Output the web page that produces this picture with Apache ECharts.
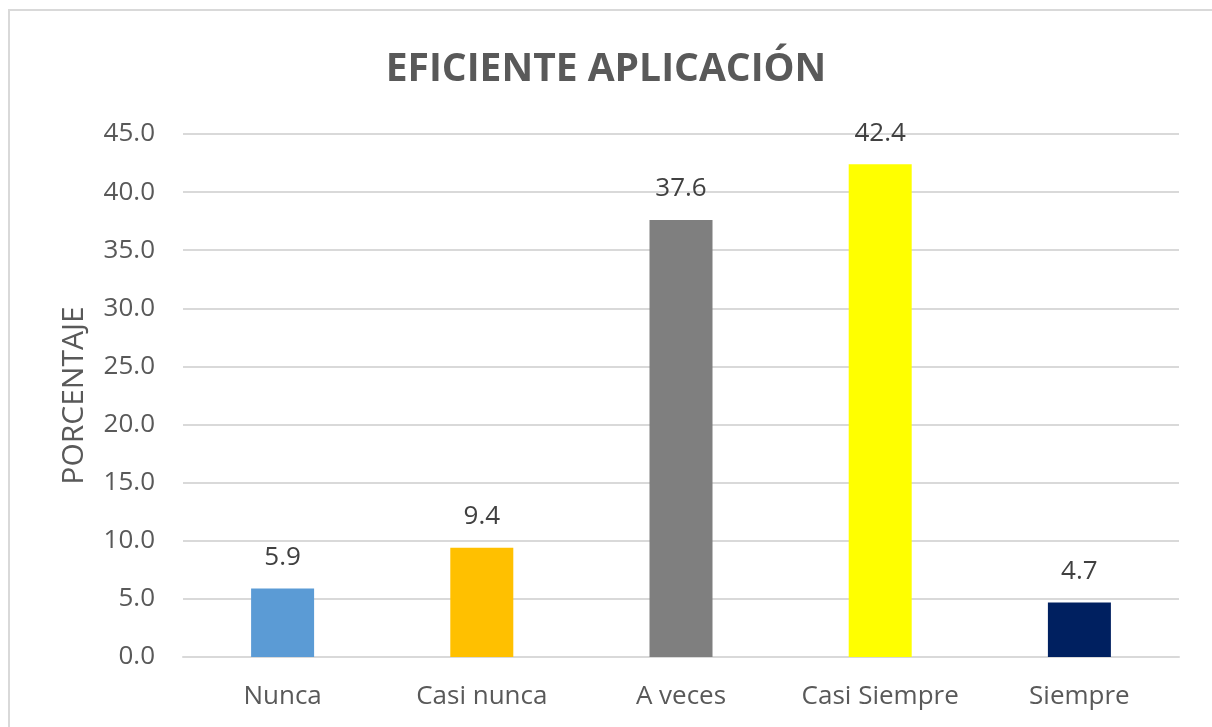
<!DOCTYPE html>
<html>
<head>
<meta charset="utf-8">
<script src="https://cdn.jsdelivr.net/npm/echarts@6/dist/echarts.min.js"></script>
<style>
  html, body { margin: 0; padding: 0; background: #fff; overflow: hidden; }
  #frame { position: absolute; left: 8px; top: 9px; width: 1230px; height: 740px; border: 2px solid #d9d9d9; box-sizing: border-box; }
  #main { position: absolute; left: 0; top: 0; width: 1212px; height: 727px; }
</style>
</head>
<body>
<div id="frame"></div>
<div id="main"></div>
<script>
var categories = ['Nunca', 'Casi nunca', 'A veces', 'Casi Siempre', 'Siempre'];
var values = [5.9, 9.4, 37.6, 42.4, 4.7];
var barColors = ['#5B9BD5', '#FFC000', '#7F7F7F', '#FFFF00', '#002060'];

var font = 'Open Sans';
var option = {
  animation: false,
  title: {
    text: 'EFICIENTE APLICACIÓN',
    left: 'center',
    top: 45,
    textStyle: { fontFamily: font, fontSize: 39, fontWeight: 'bold', color: '#595959' }
  },
  grid: { left: 183, right: 33, top: 134, bottom: 70 },
  xAxis: {
    type: 'category',
    data: categories,
    axisTick: { show: false },
    axisLine: { lineStyle: { color: '#d9d9d9', width: 2 } },
    axisLabel: { interval: 0, hideOverlap: false, fontFamily: font, fontSize: 26, color: '#595959', margin: 27 }
  },
  yAxis: {
    type: 'value',
    min: 0,
    max: 45,
    interval: 5,
    name: 'PORCENTAJE',
    nameLocation: 'middle',
    nameGap: 94,
    nameTextStyle: { fontFamily: font, fontSize: 30, color: '#595959' },
    axisLabel: {
      fontFamily: font, fontSize: 26, color: '#595959', margin: 28,
      formatter: function (v) { return v.toFixed(1); }
    },
    splitLine: { lineStyle: { color: '#d9d9d9', width: 2 } }
  },
  series: [{
    type: 'bar',
    barWidth: 63,
    data: values.map(function (v, i) {
      return { value: v, itemStyle: { color: barColors[i] } };
    }),
    label: {
      show: true,
      position: 'top',
      distance: 18,
      fontFamily: font,
      fontSize: 26,
      color: '#404040',
      formatter: function (p) { return p.value.toFixed(1); }
    }
  }]
};
echarts.init(document.getElementById('main')).setOption(option);
</script>
</body>
</html>
